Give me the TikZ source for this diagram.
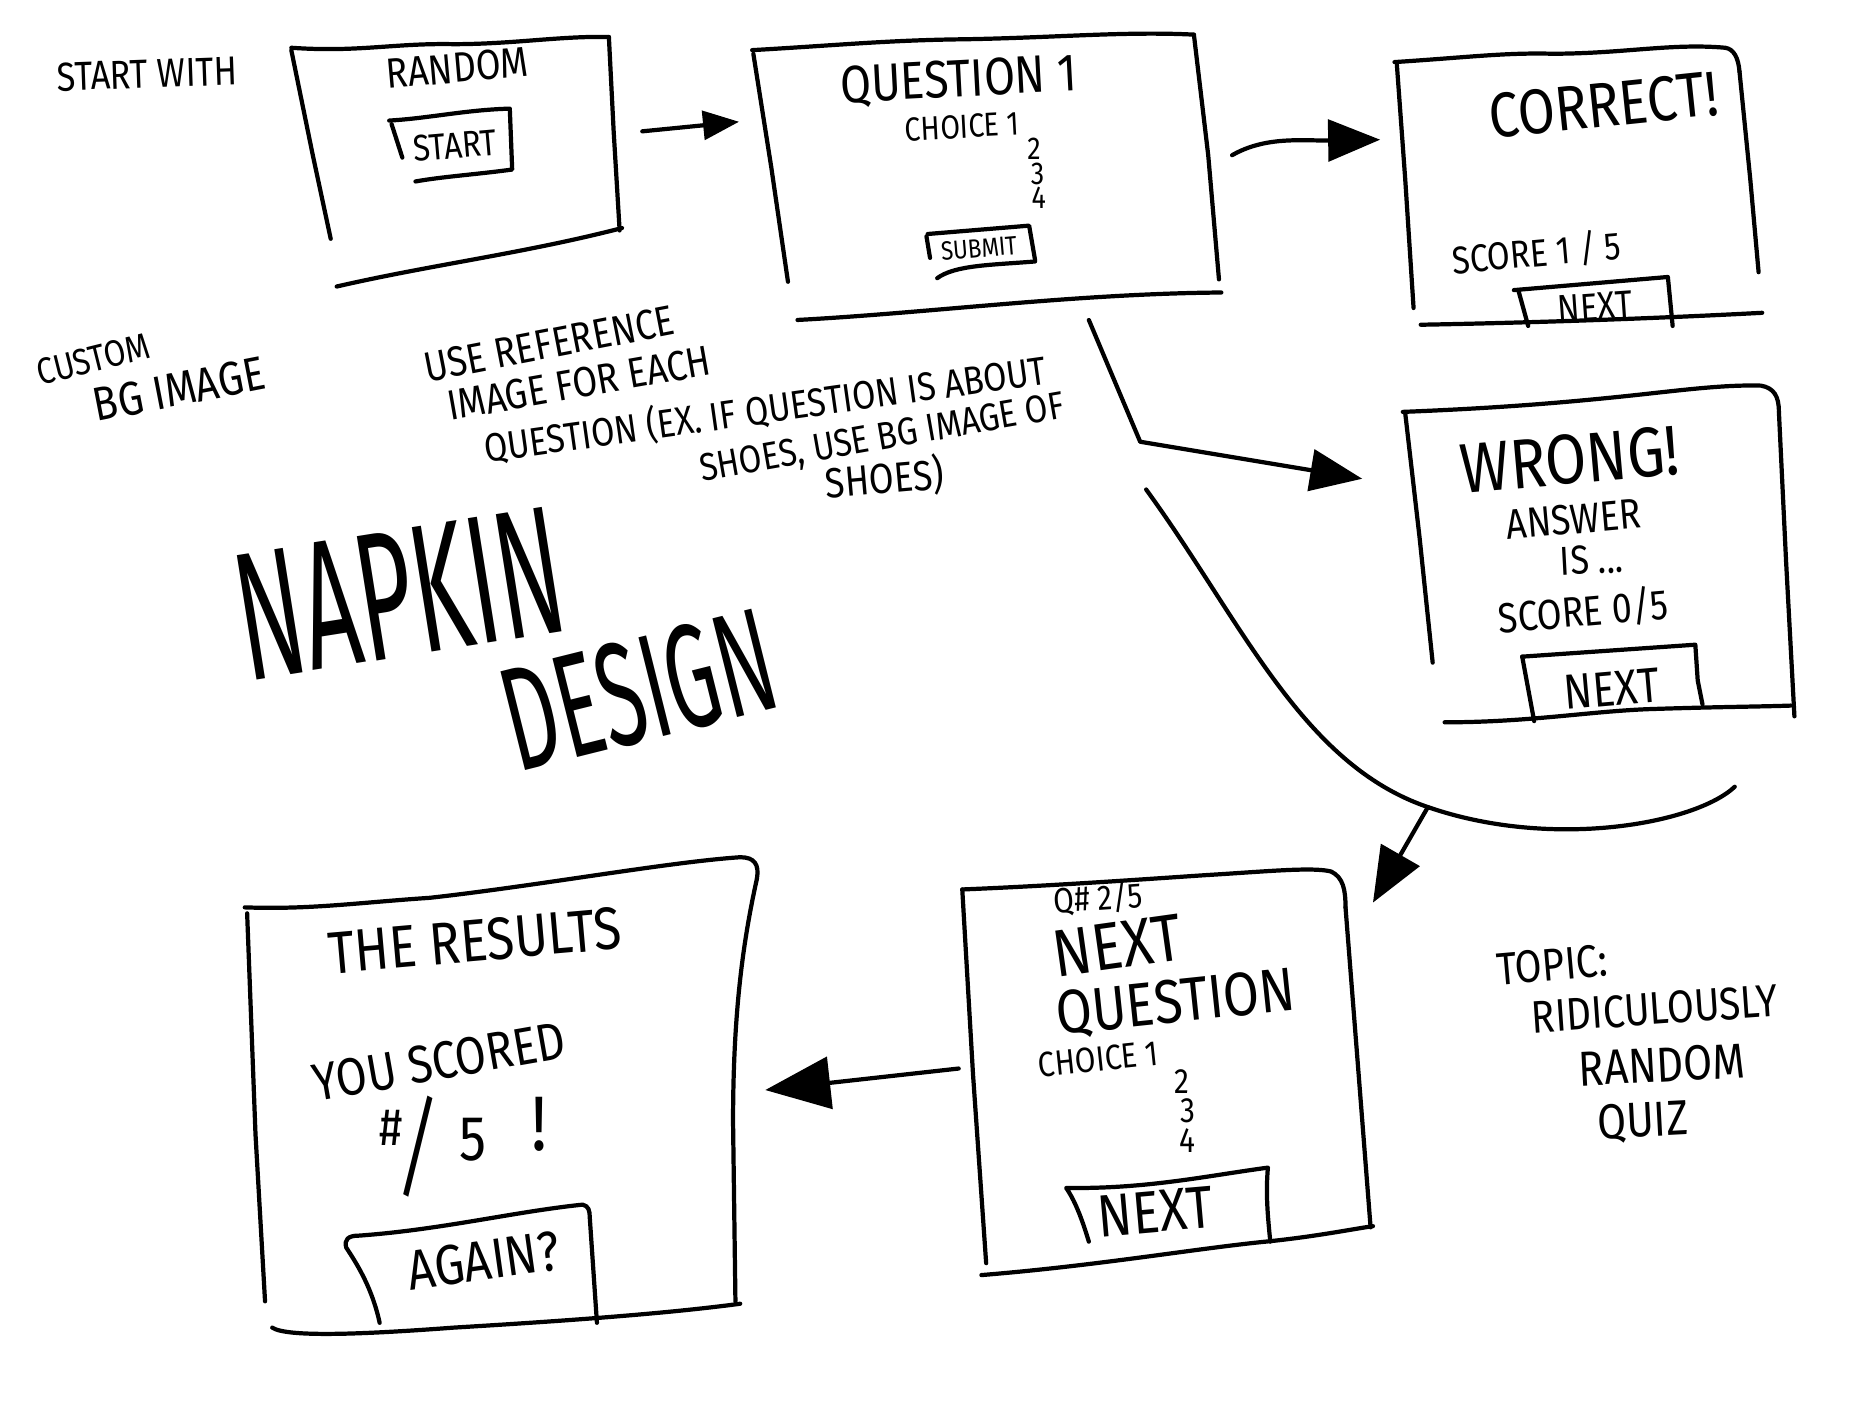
\documentclass[tikz,border=0pt]{standalone}
\usepackage{fontspec}
\setmainfont{Fira Sans}[FakeStretch=0.85]
\usepackage{tikz}
\usetikzlibrary{arrows.meta}
\tikzset{
pen/.style={line width=1.2pt, line cap=round, line join=round},
flow/.style={pen, -{Triangle[length=#1, width=0.8*#1]}},
flow/.default=5mm,
hand/.style={inner sep=0pt, font=\fontsize{#1}{#1}\selectfont},
hand/.default=11
}

\begin{document}
\begin{tikzpicture}[x=0.1194mm, y=-0.1194mm]
    \useasboundingbox (0,0) rectangle (1568,1176);

                % notes on the left
                \node[hand=11.5, rotate=2] (startwith) at (123,62) {START WITH};
                \node[hand=10.5, rotate=14] (custom) at (78,301) {CUSTOM};
                \node[hand=13.5, rotate=11] (bgimage) at (150,326) {BG IMAGE};
                \node[hand=12, rotate=11] (useref) at (460,288) {USE REFERENCE};
                \node[hand=12, rotate=10] (imgeach) at (485,321) {IMAGE FOR EACH};
                \node[hand=11.3, rotate=8] (qex) at (641,343) {QUESTION (EX. IF QUESTION IS ABOUT};
                \node[hand=11, rotate=10] (shoes) at (739,368) {SHOES, USE BG IMAGE OF};
                \node[hand=12, rotate=5] (shoesend) at (741,401) {SHOES)};
                \node[hand=52, rotate=9] (napkin) at (335,497) {\scalebox{0.62}[1]{NAPKIN}};
                \node[hand=42, rotate=14] (design) at (535,578) {\scalebox{0.66}[1]{DESIGN}};
                \node[hand=13, rotate=5] (topic) at (1300,808) {TOPIC:};
                \node[hand=13, rotate=4] (ridic) at (1386,845) {RIDICULOUSLY};
                \node[hand=14, rotate=3] (randomq) at (1392,892) {RANDOM};
                \node[hand=14, rotate=3] (quiz) at (1376,940) {QUIZ};

                % start screen
                \draw[pen] (244,40) .. controls (300,44) and (330,36) .. (380,37) .. controls (430,37) and (470,30) .. (510,31);
                \draw[pen] (244,42) -- (262,130) -- (277,200);
                \draw[pen] (510,31) -- (514,110) -- (519,193);
                \draw[pen] (282,240) .. controls (360,222) and (440,212) .. (521,191);
                \node[hand=12, rotate=5] (random) at (383,57) {RANDOM};
                \draw[pen] (326,101) .. controls (360,99) and (390,92) .. (427,91) -- (429,142) .. controls (400,146) and (370,148) .. (348,152);
                \draw[pen] (328,104) -- (337,132);
                \node[hand=10.5, rotate=5] (start) at (381,122) {START};

                % question screen
                \draw[pen] (630,42) .. controls (700,38) and (740,34) .. (800,33) .. controls (880,32) and (940,26) .. (1000,29);
                \draw[pen] (631,45) -- (646,140) -- (660,236);
                \draw[pen] (1000,29) -- (1012,130) -- (1021,234);
                \draw[pen] (668,268) .. controls (780,262) and (900,246) .. (1023,245);
                \node[hand=15, rotate=3] (question) at (803,68) {QUESTION 1};
                \node[hand=9.5, rotate=3] (choice) at (806,106) {CHOICE 1};
                \node[hand=9] (ctwo) at (866,125) {2};
                \node[hand=9] (cthree) at (869,146) {3};
                \node[hand=9] (cfour) at (870,166) {4};
                \draw[pen] (776,198) -- (779,216);
                \draw[pen] (777,196) -- (862,189) -- (867,218);
                \draw[pen] (785,233) .. controls (800,222) and (830,222) .. (867,219);
                \node[hand=7.5, rotate=5] (submit) at (820,208) {SUBMIT};

                % correct screen
                \draw[pen] (1168,52) .. controls (1230,48) and (1260,44) .. (1300,45) .. controls (1360,45) and (1400,36) .. (1445,40) .. controls (1452,41) and (1456,48) .. (1457,60);
                \draw[pen] (1170,54) -- (1177,150) -- (1184,258);
                \draw[pen] (1457,60) -- (1466,150) -- (1473,228);
                \draw[pen] (1190,272) .. controls (1300,270) and (1400,266) .. (1476,262);
                \node[hand=18, rotate=6] (correct) at (1343,88) {CORRECT!};
                \node[hand=11, rotate=5] (scoreone) at (1287,212) {SCORE 1 / 5};
                \draw[pen] (1272,244) -- (1280,273);
                \draw[pen] (1268,243) -- (1397,232) -- (1401,273);
                \node[hand=11, rotate=4] (nextone) at (1336,257) {NEXT};

                % wrong screen
                \draw[pen] (1175,345) .. controls (1250,342) and (1300,338) .. (1350,333) .. controls (1400,328) and (1440,322) .. (1475,323) .. controls (1486,325) and (1490,332) .. (1490,345);
                \draw[pen] (1177,346) -- (1189,450) -- (1200,555);
                \draw[pen] (1490,345) -- (1496,470) -- (1503,600);
                \draw[pen] (1210,605) .. controls (1280,605) and (1330,596) .. (1380,594) .. controls (1440,592) and (1470,592) .. (1500,591);
                \node[hand=20, rotate=5] (wrong) at (1315,385) {WRONG!};
                \node[hand=12, rotate=5] (answer) at (1318,435) {ANSWER};
                \node[hand=11.5, rotate=3] (is) at (1333,469) {IS ...};
                \node[hand=12, rotate=5] (scorezero) at (1326,512) {SCORE 0/5};
                \draw[pen] (1275,550) -- (1285,604);
                \draw[pen] (1275,550) -- (1420,540) -- (1422,570) -- (1426,590);
                \node[hand=14, rotate=5] (nexttwo) at (1350,577) {NEXT};

                % next question screen
                \draw[pen] (806,745) .. controls (880,742) and (950,737) .. (1010,733) .. controls (1060,730) and (1100,726) .. (1115,730) .. controls (1125,735) and (1127,745) .. (1127,760);
                \draw[pen] (806,745) -- (815,900) -- (826,1058);
                \draw[pen] (1127,760) -- (1138,900) -- (1148,1028);
                \draw[pen] (822,1068) .. controls (920,1060) and (1000,1046) .. (1060,1040) .. controls (1100,1036) and (1130,1030) .. (1150,1027);
                \node[hand=10, rotate=4] (qnum) at (920,752) {Q\# 2/5};
                \node[hand=19, rotate=8] (nextbig) at (936,792) {NEXT};
                \node[hand=17.5, rotate=6] (questionbig) at (985,841) {QUESTION};
                \node[hand=10, rotate=6] (choicetwo) at (920,887) {CHOICE 1};
                \node[hand=10] (dtwo) at (990,906) {2};
                \node[hand=10] (dthree) at (995,930) {3};
                \node[hand=10] (dfour) at (995,955) {4};
                \draw[pen] (912,1040) .. controls (906,1020) and (900,1005) .. (893,995) .. controls (960,996) and (1010,985) .. (1062,978) .. controls (1060,1000) and (1062,1020) .. (1064,1040);
                \node[hand=17, rotate=5] (nextthree) at (968,1015) {NEXT};

                % results screen
                \draw[pen] (205,760) .. controls (260,762) and (300,756) .. (360,752) .. controls (450,742) and (560,722) .. (620,718) .. controls (632,718) and (636,724) .. (634,736);
                \draw[pen] (207,765) -- (214,950) -- (222,1090);
                \draw[pen] (634,736) .. controls (622,790) and (614,850) .. (614,940) -- (616,1090);
                \draw[pen] (228,1112) .. controls (240,1120) and (300,1118) .. (380,1112) .. controls (480,1106) and (560,1100) .. (620,1092);
                \node[hand=17, rotate=5] (results) at (398,788) {THE RESULTS};
                \node[hand=15, rotate=10] (scored) at (368,889) {YOU SCORED};
                \node[hand=15] (hash) at (328,945) {\#};
                \node[hand=32, rotate=-5] (slash) at (350,960) {\scalebox{0.7}[1]{/}};
                \node[hand=18] (five) at (396,955) {5};
                \node[hand=22] (bang) at (452,942) {!};
                \draw[pen] (318,1108) .. controls (312,1080) and (300,1060) .. (290,1045) .. controls (288,1038) and (292,1035) .. (300,1035) .. controls (370,1030) and (430,1015) .. (488,1009) .. controls (493,1010) and (494,1014) .. (494,1020) -- (500,1108);
                \node[hand=16, rotate=8] (again) at (405,1056) {AGAIN?};

                % flow between screens
                \coordinate (startout) at (538,110);
                \coordinate (questin) at (619,102);
                \coordinate (questout) at (1032,130);
                \coordinate (correctin) at (1156,117);
                \coordinate (questdown) at (912,268);
                \coordinate (bend) at (955,370);
                \coordinate (wrongin) at (1141,401);
                \coordinate (cutstart) at (960,410);
                \coordinate (cutmid) at (1196,676);
                \coordinate (cutend) at (1453,659);
                \coordinate (nextqin) at (1150,756);
                \coordinate (nextqout) at (803,895);
                \coordinate (resultsin) at (641,913);

                \draw[flow=3.6mm] (startout) -- (questin);
                \draw[flow=5.2mm] (questout) .. controls (1060,114) and (1090,118) .. (correctin);
                \draw[flow=5.2mm] (questdown) -- (bend) -- (wrongin);
                \draw[pen] (cutstart) .. controls (1040,520) and (1090,640) .. (cutmid) .. controls (1300,712) and (1420,690) .. (cutend);
                \draw[flow=5.5mm] (cutmid) -- (nextqin);
                \draw[flow=6.5mm] (nextqout) -- (resultsin);

\end{tikzpicture}
\end{document}
